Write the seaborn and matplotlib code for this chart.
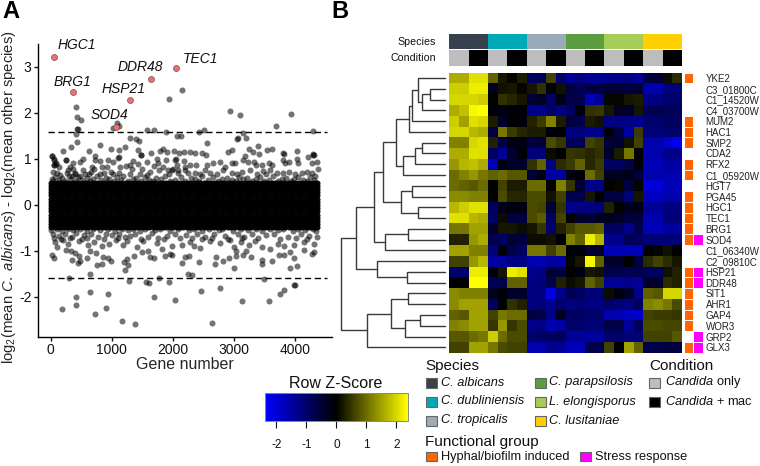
import numpy as np
import pandas as pd
import matplotlib
matplotlib.use('Agg')
import matplotlib.pyplot as plt
from matplotlib.colors import LinearSegmentedColormap, ListedColormap
from matplotlib.patches import Rectangle
import seaborn as sns

# Panel A: points as (gene number, log2 difference)
named_genes = ['HGC1', 'BRG1', 'SOD4', 'HSP21', 'DDR48', 'TEC1']
named_x = [55, 371, 1065, 1294, 1649, 2048]
named_y = [3.22, 2.46, 1.70, 2.28, 2.73, 2.97]

upper_points = [
    (420, 2.12), (437, 1.91), (497, 1.85), (431, 1.66), (442, 1.65), (420, 1.55), (437, 1.37), (328, 1.25),
    (207, 1.18), (22, 1.06), (55, 0.99), (251, 0.97), (87, 0.91), (55, 0.86), (1016, 1.68), (1087, 1.79),
    (1125, 1.71), (1583, 1.63), (1693, 1.64), (1884, 1.59), (2419, 1.59), (2517, 1.62), (2069, 1.50),
    (2129, 1.50), (1294, 1.45), (1398, 1.43), (1441, 1.39), (1223, 1.25), (1114, 1.19), (994, 1.21),
    (808, 1.31), (622, 1.18), (1425, 1.20), (1845, 1.22), (1791, 1.17), (1911, 1.15), (2020, 1.17),
    (2097, 1.12), (2189, 1.16), (2282, 1.15), (2364, 1.12), (2479, 1.12), (2544, 1.08), (2555, 1.35),
    (1097, 1.02), (1485, 1.08), (1649, 1.14), (2927, 2.04), (3096, 1.95), (3937, 1.98), (3691, 1.72),
    (4297, 1.60), (3145, 1.57), (3058, 1.46), (3052, 1.43), (3189, 1.45), (2965, 1.20), (2905, 1.16),
    (3243, 1.22), (3303, 1.15), (3391, 1.29), (3402, 1.11), (3538, 1.19), (3620, 1.22), (3817, 1.11),
    (4030, 1.18), (4292, 1.11), (4308, 1.09), (3183, 1.07), (1944, 2.30), (2146, 2.49),
    (27, 1.07), (59, 0.98), (86, 0.89), (141, 0.83), (54, 0.86), (43, 0.72), (97, 0.70), (21, 0.57),
    (250, 0.98), (359, 0.92), (479, 0.93), (523, 0.99), (316, 0.83), (288, 0.75), (261, 0.70), (370, 0.78),
    (398, 0.67), (343, 0.63), (523, 0.75), (670, 0.83), (708, 0.78), (807, 0.96), (943, 0.98), (1025, 0.93),
    (725, 0.98), (725, 1.07), (834, 0.83), (926, 0.82), (981, 0.72), (872, 0.69), (1134, 0.82), (1123, 1.04),
    (1232, 0.85), (1298, 0.86), (1352, 0.95), (1330, 0.78), (1478, 1.09), (1581, 0.93), (1434, 0.89),
    (1488, 0.79), (1690, 0.85), (1734, 0.99), (1756, 0.92), (1843, 0.83), (1887, 0.98), (1778, 0.75),
    (2045, 0.99), (2181, 0.95), (2061, 0.86), (1925, 0.76), (1996, 0.78), (2198, 0.83), (2088, 0.69),
    (1625, 0.72), (1298, 0.67), (1025, 0.67), (807, 0.67), (632, 0.67), (479, 0.63),
    (2034, 0.98), (2661, 0.92), (2552, 0.87), (2770, 0.93), (2852, 0.83), (2961, 0.92), (3016, 0.91),
    (3152, 0.98), (3234, 0.94), (3327, 0.93), (3359, 0.87), (3452, 0.87), (3578, 0.92), (3616, 0.88),
    (3807, 0.98), (3796, 1.12), (3834, 0.91), (3905, 0.93), (4025, 0.99), (4052, 0.91), (4298, 1.09),
    (4270, 0.91), (4352, 0.93), (4379, 0.78), (4216, 1.04), (4107, 0.69), (3589, 0.76), (3479, 0.73),
    (3370, 0.67), (3261, 0.75), (3125, 0.72), (2825, 0.75), (2607, 0.69), (2377, 0.87), (2279, 0.88),
    (2197, 0.76), (2361, 0.69), (2525, 0.75), (2716, 0.67), (2961, 0.69), (3998, 0.67), (3807, 0.70),
    (3698, 0.69), (4189, 0.72), (4325, 0.64), (1979, 0.76), (2088, 0.75),
]

lower_points = [
    (180, -2.26), (410, -2.00), (420, -2.18), (721, -2.36), (644, -1.90), (934, -1.93), (912, -2.23),
    (1174, -2.53), (1381, -2.58), (1693, -1.99), (2042, -2.06), (2452, -1.88), (2632, -2.57), (2768, -1.80),
    (3129, -2.09), (3576, -2.09), (3756, -1.93), (3822, -1.85), (3997, -1.74), (3990, -1.74), (3489, -1.61),
    (306, -1.59), (644, -1.50), (1278, -1.65), (1556, -1.68), (1611, -1.70), (1769, -1.59), (1938, -1.67),
    (2244, -1.49), (2310, -1.52), (1212, -1.41), (1267, -1.31), (1201, -1.23), (1250, -1.18), (753, -1.31),
    (841, -1.28), (863, -1.12), (934, -1.16), (994, -1.21), (344, -1.19), (453, -1.26), (480, -1.21),
    (16, -1.08), (55, -1.15), (251, -0.98), (98, -0.92), (333, -1.01), (393, -1.05), (464, -1.10), (590, -1.16),
    (644, -1.00), (737, -1.04), (1370, -1.11), (1491, -1.02), (1589, -1.00), (1633, -1.13), (1698, -1.15),
    (1873, -1.10), (1955, -1.06), (1993, -1.09), (2151, -1.26), (2195, -1.12), (2266, -1.10), (2424, -1.25),
    (2692, -1.28), (2708, -1.13), (2828, -1.22), (2916, -1.16), (2992, -1.36), (3025, -1.10), (3025, -1.00),
    (3150, -1.09), (3194, -1.01), (3271, -1.13), (3456, -1.19), (3456, -1.28), (3620, -1.22), (3735, -1.09),
    (3811, -1.08), (3909, -1.38), (4030, -1.32), (3975, -1.15), (3909, -1.02), (4150, -0.97), (4275, -1.06),
    (4302, -1.02),
    (71, -0.80), (207, -0.76), (289, -0.84), (464, -0.78), (617, -0.86), (715, -0.80), (846, -0.90), (961, -0.84),
    (1070, -0.77), (1190, -0.88), (1245, -0.79), (1420, -0.92), (1518, -0.78), (1736, -0.83), (1818, -0.95),
    (1982, -0.90), (2146, -0.86), (2282, -0.80), (2353, -0.90), (2446, -0.93), (2610, -0.78), (2763, -0.82),
    (2937, -0.77), (2992, -0.92), (3112, -0.80), (3238, -0.87), (3347, -0.79), (3456, -0.92), (3593, -0.95),
    (3718, -0.85), (3811, -0.90), (3975, -0.88), (4150, -0.80), (4302, -0.84), (4357, -0.70),
    (40, -0.62), (130, -0.68), (240, -0.62), (350, -0.70), (420, -0.60), (540, -0.66), (660, -0.62), (780, -0.70),
    (900, -0.62), (1010, -0.66), (1120, -0.62), (1300, -0.68), (1380, -0.62), (1590, -0.70), (1660, -0.61),
    (1900, -0.68), (2040, -0.62), (2210, -0.66), (2400, -0.62), (2530, -0.70), (2680, -0.62), (2850, -0.68),
    (3060, -0.62), (3170, -0.70), (3290, -0.62), (3520, -0.66), (3660, -0.62), (3880, -0.70), (4090, -0.62),
    (4230, -0.68),
]

upper_edge = [
    (75, 0.60), (190, 0.58), (300, 0.62), (450, 0.60), (590, 0.59), (750, 0.62), (900, 0.58), (1090, 0.60),
    (1190, 0.63), (1400, 0.58), (1550, 0.61), (1720, 0.59), (1870, 0.62), (2130, 0.60), (2290, 0.59), (2470, 0.62),
    (2660, 0.60), (2880, 0.58), (3080, 0.61), (3210, 0.59), (3420, 0.60), (3640, 0.62), (3850, 0.59), (4040, 0.61),
    (4240, 0.60), (30, 0.53), (140, 0.55), (235, 0.52), (330, 0.56), (410, 0.53), (520, 0.55), (640, 0.52),
    (700, 0.57), (820, 0.54), (960, 0.56), (1040, 0.52), (1150, 0.55), (1260, 0.53), (1350, 0.56), (1480, 0.52),
    (1610, 0.55), (1670, 0.53), (1800, 0.56), (1950, 0.53), (2030, 0.55), (2190, 0.52), (2360, 0.56), (2430, 0.53),
    (2570, 0.55), (2730, 0.52), (2800, 0.56), (2960, 0.54), (3030, 0.52), (3150, 0.56), (3290, 0.53), (3360, 0.56),
    (3490, 0.52), (3570, 0.55), (3720, 0.53), (3790, 0.57), (3930, 0.53), (3990, 0.56), (4130, 0.54), (4200, 0.52),
    (4310, 0.55), (160, 0.66), (390, 0.70), (560, 0.68), (660, 0.72), (1120, 0.70), (1460, 0.68), (1580, 0.66),
    (1930, 0.68), (2240, 0.70), (2450, 0.67), (3050, 0.68), (3530, 0.68), (3900, 0.72), (4280, 0.70),
]

lower_edge = [
    (10, -0.55), (100, -0.53), (190, -0.56), (280, -0.53), (370, -0.55), (480, -0.52), (590, -0.56), (690, -0.53),
    (810, -0.55), (930, -0.52), (1050, -0.56), (1170, -0.53), (1260, -0.55), (1340, -0.52), (1460, -0.56),
    (1540, -0.53), (1700, -0.55), (1790, -0.52), (1960, -0.56), (2090, -0.53), (2260, -0.55), (2340, -0.52),
    (2470, -0.56), (2590, -0.53), (2750, -0.55), (2810, -0.52), (2980, -0.56), (3110, -0.53), (3230, -0.55),
    (3360, -0.52), (3460, -0.56), (3590, -0.53), (3720, -0.55), (3810, -0.52), (3960, -0.56), (4040, -0.53),
    (4170, -0.55), (4290, -0.52), (4340, -0.56), (60, -0.72), (170, -0.74), (310, -0.72), (520, -0.74), (600, -0.72),
    (880, -0.74), (1100, -0.72), (1210, -0.70), (1480, -0.73), (1760, -0.71), (1850, -0.74), (2120, -0.72),
    (2320, -0.71), (2480, -0.73), (2640, -0.71), (2900, -0.73), (3130, -0.72), (3400, -0.71), (3750, -0.73),
    (4010, -0.72), (4200, -0.74),
]

# The middle of the cloud is solid black, single genes cannot be read there, so it is estimated
core_genes = [
    5, 62, 118, 171, 229, 283, 341, 396, 452, 507, 561, 618, 674, 729, 781, 838, 893, 951, 1004, 1062,
    1116, 1171, 1229, 1283, 1340, 1394, 1451, 1507, 1563, 1616, 1672, 1729, 1783, 1838, 1895, 1951, 2006,
    2061, 2118, 2173, 2229, 2284, 2339, 2396, 2451, 2507, 2562, 2618, 2673, 2729, 2783, 2840, 2895, 2951,
    3006, 3062, 3117, 3173, 3228, 3284, 3339, 3395, 3451, 3506, 3562, 3617, 3673, 3728, 3784, 3839, 3895,
    3950, 4006, 4061, 4117, 4172, 4228, 4283, 4330, 4358,
]
core_levels = [-0.47, -0.41, -0.35, -0.28, -0.21, -0.14, -0.07, 0.0,
               0.07, 0.14, 0.21, 0.28, 0.35, 0.41, 0.47]

x_ticks = [0, 1000, 2000, 3000, 4000]
y_ticks = [-2, -1, 0, 1, 2, 3]
cutoff = 1.585

# Panel B: row Z-scores, 6 species x (2 Candida only + 2 Candida + mac) columns
row_names = ['YKE2', 'C3_01800C', 'C1_14520W', 'C4_03700W', 'MUM2', 'HAC1', 'SMP2', 'CDA2', 'RFX2', 'C1_05920W',
             'HGT7', 'PGA45', 'HGC1', 'TEC1', 'BRG1', 'SOD4', 'C1_06340W', 'C2_09810C', 'HSP21', 'DDR48',
             'SIT1', 'AHR1', 'GAP4', 'WOR3', 'GRP2', 'GLX3']

zscores = [
    [1.6, 1.6, 2.1, 2.1, 0.9, 0.2, 0.05, 0.25, -0.9, -0.8, 0.6, -1.0, -1.4, -1.2, -1.4, -1.4, -1.3, -1.3, -1.2, -1.4, -0.6, -0.5, 0.1, 0.4],
    [1.9, 1.9, 2.2, 2.2, -0.3, 0.15, 0.2, 0.05, 0.2, 0.45, -0.1, 0.15, -0.6, -0.8, -0.6, -0.6, -0.5, -0.5, -0.6, -0.5, -1.6, -1.6, -1.1, -1.1],
    [2.0, 2.0, 2.0, 1.9, 0.0, 0.45, 0.35, 0.2, -0.5, -0.3, -0.9, -0.2, -0.7, -0.7, -1.7, -1.4, 0.05, 0.05, 0.2, 0.25, -1.2, -1.2, -1.0, -1.0],
    [1.6, 1.8, 2.3, 2.4, -0.1, -0.2, -0.1, -0.1, -1.3, -1.3, -1.0, -1.2, -0.9, -0.1, 0.45, 0.5, 0.2, -0.3, -0.4, 0.2, -0.8, -0.7, -0.8, -0.8],
    [1.9, 1.5, 2.1, 2.0, 0.25, -0.4, 0.0, -0.1, 0.3, 0.55, 1.2, 0.25, -0.6, -0.7, 0.25, 0.15, -1.2, -1.2, -1.2, -1.3, -1.0, -1.0, -0.9, -0.9],
    [2.0, 2.0, 1.7, 1.6, -0.6, 1.1, 0.55, 0.35, 0.25, 0.25, -0.1, -0.05, -1.2, -1.1, -1.3, -1.3, -0.1, -0.6, -1.5, 0.55, -1.1, -1.1, -1.0, -1.0],
    [1.2, 1.2, 2.0, 2.1, 0.3, -0.6, -0.2, -0.2, -0.6, -0.5, 0.7, 0.5, -0.8, -0.8, 0.6, 0.5, -0.5, -0.5, 0.15, 0.6, -1.6, -1.6, -1.9, -2.2],
    [1.6, 1.6, 2.1, 2.1, -0.9, -1.4, -0.4, -0.1, -1.1, -1.1, 0.1, 0.0, 0.5, 0.45, 0.35, 0.45, -0.4, 0.25, 1.1, 0.0, -1.6, -1.6, -1.3, -1.3],
    [1.4, 1.7, 1.8, 1.6, -1.7, -0.2, -0.4, -0.4, 0.45, 0.9, -1.2, 0.4, 0.55, 0.9, 0.35, 0.55, -0.9, -0.9, -0.7, -0.05, -1.7, -1.7, -1.5, -1.5],
    [1.0, 1.2, 1.4, 1.1, 0.9, 1.0, 0.8, 0.8, -0.5, -0.2, -1.5, -1.5, -0.2, -0.05, 1.0, 0.6, -0.3, -0.3, -0.2, -0.6, -1.6, -1.6, -1.6, -1.6],
    [1.0, 0.9, 0.8, 1.0, 0.0, 0.6, 0.25, 0.25, 1.0, 1.0, 0.0, 1.2, 0.5, -0.5, -1.3, -1.2, 0.0, 0.05, -0.6, 0.05, -2.0, -2.0, -1.7, -1.7],
    [1.3, 1.3, 1.2, 1.2, 0.0, 0.7, 0.35, 0.35, 0.7, 0.7, 0.15, 0.6, -0.7, -0.7, 0.2, -0.05, -0.6, -0.6, -1.1, 0.2, -1.8, -1.8, -1.6, -1.6],
    [1.7, 1.9, 2.1, 2.1, -0.8, -0.3, -0.1, -0.2, 0.7, 0.65, -0.5, 0.5, -1.3, -1.2, -1.2, -1.1, 0.3, 0.0, -0.3, -0.2, -1.4, -1.4, -1.2, -1.2],
    [2.1, 2.1, 1.7, 1.6, -0.9, 0.1, -0.6, -0.6, 0.7, 0.85, -0.9, 0.6, 0.0, -0.4, -0.5, -0.3, -0.3, -0.4, -0.6, -0.6, -1.6, -1.6, -1.1, -1.1],
    [1.1, 1.1, 1.5, 1.5, -0.4, 0.2, 0.2, 0.1, 0.2, 0.5, -1.0, 0.3, 0.6, 0.8, 0.8, 0.9, -0.9, -0.9, -1.3, -0.7, -1.7, -1.7, -1.5, -1.5],
    [0.3, 0.3, 1.4, 1.6, -0.7, -0.9, -0.5, -0.6, 0.1, 0.1, 0.15, 0.0, 1.2, 0.9, 2.2, 1.7, -1.3, -1.3, -0.8, -0.9, -1.1, -1.1, -1.1, -1.1],
    [1.5, 1.5, 1.2, 1.2, -1.1, -0.1, -0.7, -0.9, 1.1, 1.1, 0.6, 1.0, -0.1, -0.1, -0.5, -0.4, -1.7, -1.7, -1.7, -1.7, 0.0, 0.05, 0.15, 0.0],
    [0.6, 0.6, 1.4, 1.7, -1.5, -1.5, -1.2, -1.2, -1.6, -1.6, -1.5, -1.5, 0.05, 0.2, 2.3, 0.9, -0.4, -0.4, 0.0, -0.6, 0.4, 0.6, 0.4, 0.2],
    [-1.0, -1.0, 2.2, 2.2, -0.1, 0.2, 2.2, 2.1, -1.3, -1.2, -0.5, -0.6, 0.0, -0.2, 0.2, 0.15, -0.7, -0.7, -0.8, -0.7, -0.9, -0.9, 0.15, 0.3],
    [0.0, 0.0, 2.4, 2.4, -0.8, -0.7, 0.9, 0.9, -1.2, -1.1, -0.7, 0.3, 0.1, 0.2, 0.9, 0.6, -1.4, -1.4, -1.3, -1.4, -0.4, -0.4, 0.4, 0.3],
    [1.3, 1.2, 1.2, 1.2, -0.3, -0.1, -0.4, -0.4, -1.2, -1.2, -2.1, -1.3, -0.8, -0.9, -1.1, -1.1, 0.1, -0.2, -0.4, -1.3, 0.9, 0.8, 2.0, 2.0],
    [1.3, 1.5, 1.5, 1.5, -0.9, 0.0, 0.45, 0.3, -1.2, -1.1, -1.3, -1.0, -1.2, -1.1, -1.2, -1.2, -1.0, -1.1, -1.2, -0.8, 1.2, 1.3, 1.1, 0.7],
    [0.9, 0.8, 1.5, 1.5, 0.6, 1.1, 1.0, 1.0, -0.6, -0.7, -1.3, -0.3, -0.9, -0.9, -1.0, -1.0, -1.6, -1.6, -1.8, -1.9, 0.6, 0.55, 0.55, 0.5],
    [1.2, 1.3, 1.5, 1.5, 0.5, 1.4, 0.5, 0.7, -1.3, -1.2, -1.6, -1.5, -1.0, -1.0, -1.1, -1.1, -0.7, -0.7, -1.4, -0.9, 0.7, 0.7, 0.65, 0.65],
    [0.8, 0.8, 1.0, 1.1, 1.9, 1.0, 0.7, 0.7, -1.0, -0.9, -0.9, -0.8, -1.4, -1.4, -1.5, -1.5, -1.0, -1.0, -1.1, -1.1, 0.6, 0.6, 0.6, 0.8],
    [0.6, 0.6, 1.5, 1.5, 1.1, 0.7, 0.6, 0.6, -1.6, -1.6, -1.3, -1.4, -1.7, -1.7, -0.7, -0.7, 0.6, 0.0, 1.5, 0.9, -0.7, -0.7, -0.6, -0.6],
]

species_names = ['C. albicans', 'C. dubliniensis', 'C. tropicalis', 'C. parapsilosis', 'L. elongisporus', 'C. lusitaniae']
species_colors = ['#36414d', '#00a9b5', '#9aabb8', '#5a9e41', '#a6cd57', '#ffd000']
species_row = [0, 0, 0, 0, 1, 1, 1, 1, 2, 2, 2, 2, 3, 3, 3, 3, 4, 4, 4, 4, 5, 5, 5, 5]
condition_row = [0, 0, 1, 1] * 6
condition_colors = ['#bdbdbd', '#000000']
hyphal_genes = ['YKE2', 'MUM2', 'HAC1', 'SMP2', 'RFX2', 'C1_05920W', 'PGA45', 'HGC1', 'TEC1', 'BRG1', 'SOD4',
                'HSP21', 'DDR48', 'SIT1', 'AHR1', 'GAP4', 'WOR3', 'GLX3']
stress_genes = ['SOD4', 'HSP21', 'DDR48', 'GRP2', 'GLX3']
group_colors = ['#ff6600', '#ff00ff']

# Dendrogram merges, leaves are rows 0-25 and merge number i becomes node 26 + i
merge_left = [1, 26, 0, 28, 29, 6, 31, 32, 30, 10, 12, 35, 34, 14, 39, 38, 18, 17, 41, 20, 22, 46, 45, 48, 44]
merge_right = [2, 3, 27, 4, 5, 7, 8, 9, 33, 11, 13, 36, 37, 15, 16, 40, 19, 42, 43, 21, 23, 24, 47, 25, 49]
merge_height = [15, 23.3, 27.3, 33, 36.3, 23, 29.7, 41.7, 49, 33.3, 27.3, 43.7, 61.7, 36.7, 60.3, 71.3,
                38.3, 67.7, 88.7, 36.7, 25.3, 39.7, 53.7, 78.3, 103.7]

W, H = 760, 466
sns.set_theme(style='ticks')
plt.rcParams['font.family'] = ['Liberation Sans', 'DejaVu Sans']
plt.rcParams['mathtext.fontset'] = 'custom'
plt.rcParams['mathtext.rm'] = 'Liberation Sans'
plt.rcParams['mathtext.it'] = 'Liberation Sans:italic'
plt.rcParams['text.color'] = '#111111'
plt.rcParams['axes.unicode_minus'] = False

fig = plt.figure(figsize=(W / 100, H / 100), dpi=100, facecolor='white')


def px_axes(left, top, right, bottom):
    # axes from pixel edges of the final image
    return fig.add_axes([left / W, 1 - bottom / H, (right - left) / W, (bottom - top) / H])


# ---- Panel A
ax = px_axes(37.7, 44, 331.7, 337)
points = pd.DataFrame(upper_points + lower_points + upper_edge + lower_edge, columns=['gene', 'value'])
core_x, core_y = np.meshgrid(core_genes, core_levels)
core = pd.DataFrame({'gene': core_x.ravel(), 'value': core_y.ravel()})
sns.scatterplot(data=core, x='gene', y='value', color='black', alpha=0.95, s=19, linewidth=0, ax=ax)
sns.scatterplot(data=points, x='gene', y='value', color='black', alpha=0.55, s=19, linewidth=0, ax=ax)
sns.scatterplot(x=named_x, y=named_y, color='#f26d6d', s=19, edgecolor='#444444', linewidth=0.4, ax=ax, zorder=5)
ax.plot([-44, 4520], [cutoff, cutoff], color='black', lw=1, dashes=(4.5, 2.6))
ax.plot([-44, 4520], [-cutoff, -cutoff], color='black', lw=1, dashes=(4.5, 2.6))

ax.text(120, 3.48, 'HGC1', style='italic', fontsize=10, va='center')
ax.text(54, 2.67, 'BRG1', style='italic', fontsize=10, va='center')
ax.text(1101, 3.0, 'DDR48', style='italic', fontsize=10, va='center')
ax.text(2165, 3.17, 'TEC1', style='italic', fontsize=10, va='center')
ax.text(840, 2.52, 'HSP21', style='italic', fontsize=10, va='center')
ax.text(660, 1.96, 'SOD4', style='italic', fontsize=10, va='center')

ax.set_xlim(-213, 4599)
ax.set_ylim(-2.87, 3.5)
ax.set_xticks(x_ticks)
ax.set_yticks(y_ticks)
ax.tick_params(labelsize=10, length=3, width=1, pad=1.5, colors='#111111')
ax.set_xlabel('Gene number', fontsize=11.5, labelpad=0)
ax.set_ylabel(r'log$_2$(mean $\mathit{C.\ albicans}$) - log$_2$(mean other species)', fontsize=10.7)
ax.yaxis.set_label_coords(-0.068, 0.478)
sns.despine(ax=ax)
for side in ['left', 'bottom']:
    ax.spines[side].set_linewidth(1)
    ax.spines[side].set_color('black')

# ---- Panel B: heatmap and its annotation strips
z_cmap = LinearSegmentedColormap.from_list('z', ['#0000ff', '#000000', '#ffff00'])
hm_left, hm_right = 449.3, 682
hm_ax = px_axes(hm_left, 72.7, hm_right, 352.7)
cax = px_axes(265, 393, 407.7, 420.7)
sns.heatmap(np.array(zscores), cmap=z_cmap, vmin=-2.38, vmax=2.38, xticklabels=False, yticklabels=False, ax=hm_ax,
            cbar_ax=cax, cbar_kws={'orientation': 'horizontal', 'ticks': [-2, -1, 0, 1, 2]})
cax.tick_params(labelsize=8.5, length=5, width=0.8, pad=8, colors='#111111')
z_bar = hm_ax.collections[0].colorbar
z_bar.outline.set_visible(True)
z_bar.outline.set_edgecolor('#888888')
z_bar.outline.set_linewidth(0.7)

sp_ax = px_axes(hm_left, 34, hm_right, 49.3)
sns.heatmap(np.array([species_row]), cmap=ListedColormap(species_colors), cbar=False,
            xticklabels=False, yticklabels=False, ax=sp_ax)
cond_ax = px_axes(hm_left, 50, hm_right, 66)
sns.heatmap(np.array([condition_row]), cmap=ListedColormap(condition_colors), cbar=False,
            xticklabels=False, yticklabels=False, ax=cond_ax)

hyphal_col = [1.0 if name in hyphal_genes else np.nan for name in row_names]
stress_col = [2.0 if name in stress_genes else np.nan for name in row_names]
group_ax = px_axes(683.7, 72.7, 703.1, 352.7)
group_table = pd.DataFrame({'hyphal': hyphal_col, 'stress': stress_col}, index=row_names)
sns.heatmap(group_table, cmap=ListedColormap(group_colors), vmin=1, vmax=2, cbar=False, linewidths=0.5, linecolor='white',
            xticklabels=False, ax=group_ax)
group_ax.yaxis.tick_right()
group_ax.set_yticks(np.arange(len(row_names)) + 0.5)
group_ax.set_yticklabels(row_names, rotation=0, fontsize=7, color='#222222')
group_ax.tick_params(axis='y', length=0, pad=1.8)

# ---- Dendrogram
den_ax = px_axes(341.3, 72.7, 445, 352.7)
node_y = [i + 0.5 for i in range(len(row_names))]
node_h = [0.0] * len(row_names)
for left, right, height in zip(merge_left, merge_right, merge_height):
    den_ax.plot([node_h[left], height, height, node_h[right]], [node_y[left], node_y[left], node_y[right], node_y[right]],
                color='#3a3a3a', lw=1, solid_joinstyle='miter', clip_on=False)
    node_y.append((node_y[left] + node_y[right]) / 2)
    node_h.append(height)
den_ax.set_xlim(103.7, 0)
den_ax.set_ylim(len(row_names), 0)
den_ax.axis('off')

# ---- Texts and legends, in pixel positions
over = px_axes(0, 0, W, H)
over.set_xlim(0, W)
over.set_ylim(H, 0)
over.axis('off')
over.patch.set_alpha(0)

over.text(2, 12, 'A', fontsize=17, fontweight='bold', va='center', color='black')
over.text(331, 12, 'B', fontsize=17, fontweight='bold', va='center', color='black')
over.text(436, 42, 'Species', fontsize=7.7, ha='right', va='center')
over.text(436, 58, 'Condition', fontsize=7.7, ha='right', va='center')
over.text(336, 384, 'Row Z-Score', fontsize=11.5, ha='center', va='center')


def swatch(x, y, color):
    over.add_patch(Rectangle((x, y), 11, 9.5, facecolor=color, edgecolor='#666666', lw=0.8))


row_tops = [378, 397, 416]
over.text(425, 366, 'Species', fontsize=11, va='center')
for i, name in enumerate(species_names):
    col_x = 425.5 if i < 3 else 535
    text_x = 441 if i < 3 else 548.7
    swatch(col_x, row_tops[i % 3], species_colors[i])
    over.text(text_x, row_tops[i % 3] + 4.5, name, fontsize=9.2, style='italic', va='center')

over.text(649.3, 366, 'Condition', fontsize=11, va='center')
swatch(649, row_tops[0], condition_colors[0])
swatch(649, row_tops[1], condition_colors[1])
over.text(665, row_tops[0] + 4.5, r'$\mathit{Candida}$ only', fontsize=9.2, va='center')
over.text(665, row_tops[1] + 4.5, r'$\mathit{Candida}$ + mac', fontsize=9.2, va='center')

over.text(425, 441.7, 'Functional group', fontsize=11, va='center')
swatch(425.5, 451.7, group_colors[0])
over.text(441, 457, 'Hyphal/biofilm induced', fontsize=9.2, va='center')
swatch(580, 451.7, group_colors[1])
over.text(595, 457, 'Stress response', fontsize=9.2, va='center')

fig.savefig('out.png', dpi=100)
